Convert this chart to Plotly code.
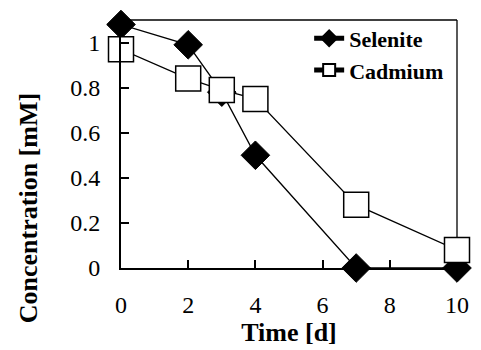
import plotly.graph_objects as go

time_days = [0, 2, 3, 4, 7, 10]
selenite = [1.08, 0.99, 0.78, 0.50, 0.0, 0.0]
cadmium = [0.97, 0.84, 0.79, 0.75, 0.28, 0.08]
x_ticks = [0, 2, 4, 6, 8, 10]
y_ticks = [0, 0.2, 0.4, 0.6, 0.8, 1]

FONT = "serif"

fig = go.Figure()
fig.add_trace(go.Scatter(
    x=time_days, y=selenite, name="<b>Selenite</b>", mode="lines+markers",
    line=dict(color="black", width=1.3),
    marker=dict(symbol="diamond", size=22, color="black", line=dict(color="black", width=1)),
    cliponaxis=False,
))
fig.add_trace(go.Scatter(
    x=time_days, y=cadmium, name="<b>Cadmium</b>", mode="lines+markers",
    line=dict(color="black", width=1.3),
    marker=dict(symbol="square", size=25, color="white", line=dict(color="black", width=1.5)),
    cliponaxis=False,
))

fig.update_layout(
    width=481, height=350,
    margin=dict(l=121, r=14, t=20, b=81),
    paper_bgcolor="white", plot_bgcolor="white",
    font=dict(family=FONT, color="black", size=24),
    showlegend=True,
    legend=dict(
        x=0.56, y=1.01, xanchor="left", yanchor="top",
        bgcolor="rgba(0,0,0,0)", borderwidth=0,
        font=dict(family=FONT, size=22, color="black"),
        itemsizing="constant", tracegroupgap=0,
    ),
    xaxis=dict(
        range=[0, 10], tickvals=x_ticks, tickprefix="<b>", ticksuffix="</b>",
        ticks="inside", ticklen=8, tickwidth=1.5, tickcolor="black",
        showline=True, linecolor="black", linewidth=2,
        showgrid=False, zeroline=False,
        tickfont=dict(family=FONT, size=24),
        ticklabelstandoff=14,
        title=dict(text="<b>Time [d]</b>", font=dict(family=FONT, size=26), standoff=2),
    ),
    yaxis=dict(
        range=[0, 1.1], tickvals=y_ticks, tickprefix="<b>", ticksuffix="</b>",
        ticks="inside", ticklen=8, tickwidth=1.5, tickcolor="black",
        showline=True, linecolor="black", linewidth=2,
        showgrid=False, zeroline=False,
        tickfont=dict(family=FONT, size=24),
        ticklabelstandoff=14,
    ),
    annotations=[
        dict(text="<b>Concentration [mM]</b>", textangle=-90, showarrow=False,
             xref="paper", yref="paper", x=-0.2746, y=0.24,
             xanchor="center", yanchor="middle",
             font=dict(family=FONT, size=26, color="black")),
    ],
    shapes=[
        dict(type="line", xref="paper", yref="paper", x0=0, x1=1, y0=1, y1=1,
             line=dict(color="black", width=1.3), layer="below"),
        dict(type="line", xref="paper", yref="paper", x0=1, x1=1, y0=0, y1=1,
             line=dict(color="black", width=1.3), layer="below"),
    ],
)

fig.write_html("out.html")
